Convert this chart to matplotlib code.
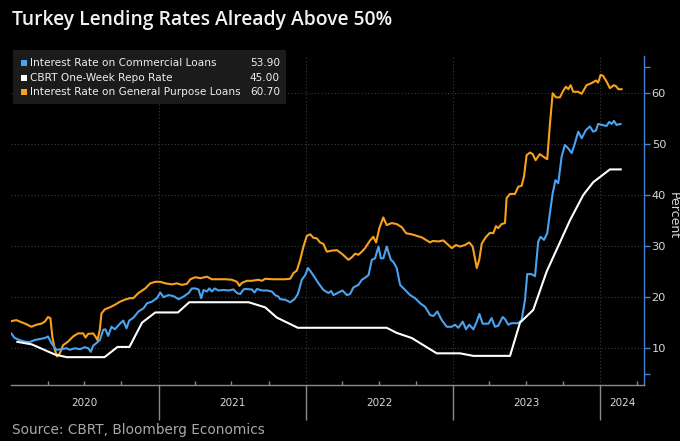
import matplotlib
matplotlib.use("Agg")
import matplotlib.pyplot as plt
import matplotlib.transforms as mtransforms
import matplotlib.patches as mpatches
from matplotlib import font_manager
from datetime import datetime

# ---------------- data (decimal year, percent) ----------------
gp_t = [2020.002, 2020.036, 2020.070, 2020.104, 2020.138, 2020.172, 2020.206, 2020.229, 2020.251, 2020.267,
        2020.280, 2020.297, 2020.312, 2020.331, 2020.353, 2020.387, 2020.421, 2020.455, 2020.489, 2020.505,
        2020.523, 2020.557, 2020.572, 2020.586, 2020.602, 2020.613, 2020.636, 2020.670, 2020.704, 2020.738,
        2020.772, 2020.806, 2020.829, 2020.864, 2020.910, 2020.944, 2020.978, 2021.012, 2021.046, 2021.091,
        2021.125, 2021.159, 2021.193, 2021.216, 2021.250, 2021.284, 2021.329, 2021.363, 2021.408, 2021.453,
        2021.499, 2021.533, 2021.550, 2021.567, 2021.601, 2021.635, 2021.679, 2021.703, 2021.725, 2021.770,
        2021.815, 2021.861, 2021.895, 2021.917, 2021.940, 2021.963, 2021.985, 2022.008, 2022.031, 2022.053,
        2022.076, 2022.098, 2022.121, 2022.144, 2022.178, 2022.212, 2022.246, 2022.268, 2022.291, 2022.314,
        2022.336, 2022.359, 2022.382, 2022.404, 2022.438, 2022.460, 2022.479, 2022.501, 2022.528, 2022.551,
        2022.585, 2022.619, 2022.653, 2022.683, 2022.721, 2022.755, 2022.789, 2022.823, 2022.846, 2022.864,
        2022.902, 2022.936, 2022.970, 2022.993, 2023.022, 2023.049, 2023.083, 2023.112, 2023.135, 2023.151,
        2023.163, 2023.180, 2023.197, 2023.226, 2023.253, 2023.275, 2023.294, 2023.309, 2023.332, 2023.355,
        2023.366, 2023.389, 2023.423, 2023.445, 2023.468, 2023.484, 2023.502, 2023.525, 2023.543, 2023.563,
        2023.592, 2023.615, 2023.642, 2023.660, 2023.679, 2023.701, 2023.728, 2023.751, 2023.769, 2023.785,
        2023.801, 2023.819, 2023.853, 2023.876, 2023.910, 2023.944, 2023.973, 2023.988, 2024.005, 2024.022,
        2024.045, 2024.068, 2024.095, 2024.113, 2024.124, 2024.147]
gp_v = [15.3, 15.5, 15.1, 14.7, 14.2, 14.6, 14.8, 15.2, 16.1, 15.9,
        12.3, 9.7, 8.4, 9.0, 10.6, 11.3, 12.3, 12.9, 12.9, 12.1,
        12.8, 12.9, 12.3, 11.6, 13.6, 16.8, 17.6, 18.0, 18.5, 19.1,
        19.5, 19.8, 19.8, 20.8, 21.7, 22.7, 23.0, 23.0, 22.7, 22.5,
        22.7, 22.4, 22.6, 23.5, 23.9, 23.7, 24.0, 23.5, 23.5, 23.5,
        23.4, 23.0, 22.2, 22.8, 23.2, 23.2, 23.4, 23.2, 23.6, 23.5,
        23.5, 23.5, 23.6, 24.7, 25.2, 27.3, 29.9, 32.0, 32.3, 31.6,
        31.5, 30.7, 30.4, 28.9, 29.1, 29.2, 28.5, 27.9, 27.3, 27.8,
        28.5, 28.3, 28.9, 29.6, 31.1, 31.8, 30.7, 33.5, 35.6, 34.1,
        34.5, 34.3, 33.7, 32.5, 32.3, 32.0, 31.7, 31.1, 30.7, 31.0,
        30.9, 31.1, 30.2, 29.6, 30.2, 29.9, 30.2, 30.7, 29.9, 27.6,
        25.7, 27.3, 30.5, 31.8, 32.6, 32.5, 33.9, 33.5, 34.3, 34.5,
        39.4, 40.2, 40.2, 41.6, 41.8, 43.6, 47.8, 48.3, 48.0, 46.8,
        48.0, 47.5, 47.0, 53.7, 59.9, 59.1, 59.1, 60.4, 61.2, 60.7,
        61.5, 60.2, 60.2, 59.8, 61.5, 61.9, 62.4, 62.0, 63.5, 63.3,
        62.2, 60.9, 61.5, 61.2, 60.7, 60.7]

com_t = [2020.002, 2020.025, 2020.059, 2020.093, 2020.127, 2020.161, 2020.195, 2020.229, 2020.251, 2020.274,
         2020.308, 2020.342, 2020.376, 2020.399, 2020.433, 2020.467, 2020.500, 2020.523, 2020.541, 2020.557,
         2020.579, 2020.602, 2020.625, 2020.640, 2020.659, 2020.681, 2020.704, 2020.738, 2020.761, 2020.783,
         2020.801, 2020.831, 2020.864, 2020.898, 2020.922, 2020.955, 2020.989, 2021.012, 2021.034, 2021.068,
         2021.102, 2021.136, 2021.170, 2021.204, 2021.227, 2021.250, 2021.272, 2021.290, 2021.306, 2021.329,
         2021.345, 2021.363, 2021.381, 2021.408, 2021.442, 2021.476, 2021.510, 2021.533, 2021.555, 2021.578,
         2021.589, 2021.635, 2021.653, 2021.669, 2021.703, 2021.737, 2021.770, 2021.793, 2021.815, 2021.827,
         2021.861, 2021.895, 2021.924, 2021.947, 2021.974, 2021.997, 2022.015, 2022.035, 2022.065, 2022.087,
         2022.121, 2022.155, 2022.173, 2022.189, 2022.223, 2022.250, 2022.280, 2022.302, 2022.325, 2022.359,
         2022.382, 2022.404, 2022.427, 2022.450, 2022.472, 2022.495, 2022.511, 2022.528, 2022.551, 2022.579,
         2022.596, 2022.619, 2022.642, 2022.676, 2022.710, 2022.744, 2022.778, 2022.812, 2022.846, 2022.868,
         2022.895, 2022.925, 2022.959, 2022.993, 2023.015, 2023.038, 2023.068, 2023.090, 2023.112, 2023.140,
         2023.163, 2023.181, 2023.203, 2023.242, 2023.264, 2023.287, 2023.309, 2023.339, 2023.355, 2023.377,
         2023.400, 2023.445, 2023.468, 2023.491, 2023.506, 2023.536, 2023.559, 2023.581, 2023.597, 2023.620,
         2023.642, 2023.660, 2023.679, 2023.698, 2023.717, 2023.740, 2023.762, 2023.785, 2023.808, 2023.830,
         2023.853, 2023.876, 2023.905, 2023.932, 2023.954, 2023.973, 2023.988, 2024.018, 2024.045, 2024.063,
         2024.080, 2024.095, 2024.113, 2024.140]
com_v = [12.9, 12.0, 11.6, 11.3, 11.2, 11.6, 11.8, 12.0, 12.3, 11.0,
         9.7, 9.8, 10.0, 9.7, 10.0, 9.8, 10.2, 10.0, 9.3, 10.5,
         11.0, 11.6, 13.6, 13.7, 12.4, 14.2, 13.7, 14.8, 15.4, 13.9,
         15.4, 16.0, 17.2, 17.8, 18.8, 19.1, 19.8, 20.9, 20.0, 20.4,
         20.2, 19.6, 20.1, 20.8, 21.7, 21.7, 21.5, 19.8, 21.4, 21.1,
         21.7, 21.1, 21.7, 21.3, 21.4, 21.3, 21.5, 20.8, 20.6, 21.5,
         21.6, 21.5, 20.9, 21.6, 21.3, 21.3, 21.1, 20.4, 20.1, 19.6,
         19.5, 19.0, 19.6, 20.6, 23.4, 24.3, 25.7, 25.0, 23.7, 22.7,
         21.4, 20.8, 21.2, 20.4, 20.9, 21.3, 20.4, 20.6, 21.9, 22.4,
         23.4, 23.8, 24.3, 27.3, 27.6, 29.9, 27.6, 27.6, 29.9, 27.3,
         26.9, 25.7, 22.4, 21.4, 20.4, 19.8, 18.8, 18.1, 16.5, 16.3,
         17.2, 15.5, 14.2, 14.2, 14.6, 14.0, 15.2, 13.7, 14.6, 13.7,
         15.2, 16.7, 14.8, 14.8, 15.9, 14.2, 14.4, 16.1, 15.7, 14.6,
         14.9, 14.9, 15.5, 19.5, 24.5, 24.5, 24.1, 30.9, 31.8, 31.2,
         32.5, 36.4, 40.3, 42.9, 42.3, 47.5, 49.8, 49.1, 48.2, 50.1,
         52.4, 51.1, 52.7, 53.4, 52.4, 52.6, 53.9, 53.7, 53.5, 54.3,
         53.9, 54.5, 53.7, 53.9]

repo_t = [2020.043, 2020.141, 2020.299, 2020.378, 2020.634, 2020.722, 2020.803, 2020.888, 2020.978, 2021.132,
          2021.209, 2021.612, 2021.725, 2021.804, 2021.947, 2022.551, 2022.619, 2022.721, 2022.891, 2023.049,
          2023.140, 2023.389, 2023.457, 2023.547, 2023.638, 2023.717, 2023.796, 2023.887, 2023.955, 2024.068,
          2024.141]
repo_v = [11.25, 10.75, 8.75, 8.25, 8.25, 10.25, 10.25, 15.0, 17.0, 17.0,
          19.0, 19.0, 18.0, 16.0, 14.0, 14.0, 13.0, 12.0, 9.0, 9.0,
          8.5, 8.5, 15.0, 17.5, 25.0, 30.0, 35.0, 40.0, 42.5, 45.0,
          45.0]

series_names = ["Interest Rate on Commercial Loans", "CBRT One-Week Repo Rate",
                "Interest Rate on General Purpose Loans"]
series_last = ["53.90", "45.00", "60.70"]
year_labels = ["2020", "2021", "2022", "2023", "2024"]
y_tick_vals = [10, 20, 30, 40, 50, 60]

# ---------------- styling ----------------
BG = "#000000"
C_BLUE = "#4AA3EE"
C_WHITE = "#FFFFFF"
C_ORANGE = "#F9A11B"
C_GRID = "#3a3a3a"
C_AXIS_R = "#3F86CF"
C_TEXT = "#d8d8d8"

available = {f.name for f in font_manager.fontManager.ttflist}
if "Liberation Sans Narrow" in available:
    NARROW = ["Liberation Sans Narrow", "DejaVu Sans"]
    leg_fs, src_fs, yr_fs = 9.2, 11.5, 8.5
else:
    NARROW = ["DejaVu Sans"]
    leg_fs, src_fs, yr_fs = 7.6, 9.8, 7.5

def dec2dt(y):
    yr = int(y)
    s = datetime(yr, 1, 1)
    e = datetime(yr + 1, 1, 1)
    return s + (e - s) * (y - yr)

W, H = 680, 441
fig = plt.figure(figsize=(W / 100, H / 100), dpi=100, facecolor=BG)
L, R, T, B = 11, 644, 56, 385
ax = fig.add_axes([L / W, 1 - B / H, (R - L) / W, (B - T) / H], facecolor=BG)

ax.plot([dec2dt(t) for t in gp_t], gp_v, color=C_ORANGE, lw=1.5, zorder=3)
ax.plot([dec2dt(t) for t in com_t], com_v, color=C_BLUE, lw=1.5, zorder=4)
ax.plot([dec2dt(t) for t in repo_t], repo_v, color=C_WHITE, lw=1.5, zorder=5)

x0, x1 = dec2dt(2020.0), dec2dt(2024.299)
ax.set_xlim(x0, x1)
ax.set_ylim(2.8, 67.2)

# grid
for v in y_tick_vals:
    ax.axhline(v, color=C_GRID, lw=0.8, ls=(0, (1, 2)), zorder=1)
years = [2021, 2022, 2023, 2024]
for yv in years:
    ax.axvline(datetime(yv, 1, 1), color=C_GRID, lw=0.8, ls=(0, (1, 2)), zorder=1)

# spines
for s in ["top", "left"]:
    ax.spines[s].set_visible(False)
ax.spines["bottom"].set_color("#8a8a8a")
ax.spines["right"].set_color(C_AXIS_R)
ax.spines["bottom"].set_linewidth(1.0)
ax.spines["right"].set_linewidth(1.0)

# y axis on right
ax.yaxis.tick_right()
ax.set_yticks([5] + y_tick_vals + [65])
ax.set_yticklabels([""] + [str(v) for v in y_tick_vals] + [""])
ax.tick_params(axis="y", colors=C_AXIS_R, labelcolor=C_TEXT, length=4, width=1,
               labelsize=8.2, pad=1.5)
fig.text(673 / W, 1 - 216 / H, "Percent", rotation=270, color=C_TEXT, fontsize=9,
         ha="center", va="center")

# x axis: long ticks at year boundaries, short quarter ticks
ax.set_xticks([datetime(y, 1, 1) for y in years])
ax.set_xticklabels([])
ax.tick_params(axis="x", which="major", colors="#8a8a8a", length=25, width=1)
qt = []
for y in [2020, 2021, 2022, 2023, 2024]:
    for m in [4, 7, 10]:
        d = datetime(y, m, 1)
        if d < x1:
            qt.append(d)
ax.set_xticks(qt, minor=True)
ax.tick_params(axis="x", which="minor", colors="#8a8a8a", length=3, width=1, direction="in")

trans = mtransforms.blended_transform_factory(ax.transData, ax.transAxes)
year_starts = [2020.0, 2021.0, 2022.0, 2023.0, 2024.0]
year_ends = [2021.0, 2022.0, 2023.0, 2024.0, 2024.299]
for lab, a, b in zip(year_labels, year_starts, year_ends):
    ax.text(dec2dt((a + b) / 2), -0.055, lab, transform=trans, ha="center", va="center",
            color=C_TEXT, fontsize=yr_fs, family=NARROW)

# title & source
fig.text(12 / W, 1 - 20 / H, "Turkey Lending Rates Already Above 50%", color="#f2f2f2",
         fontsize=13.9, fontweight="semibold", family=["Open Sans", "DejaVu Sans"],
         ha="left", va="center")
fig.text(12 / W, 1 - 430 / H, "Source: CBRT, Bloomberg Economics", color="#a8a8a8",
         fontsize=src_fs, ha="left", va="center", family=NARROW)

# legend box
lx0, lx1, ly0, ly1 = 13, 286, 50, 104
fig.patches.append(mpatches.Rectangle((lx0 / W, 1 - ly1 / H), (lx1 - lx0) / W, (ly1 - ly0) / H,
                                      transform=fig.transFigure, facecolor="#1b1b1b",
                                      edgecolor="none", zorder=10))
leg_y = [63, 78, 92]
leg_c = [C_BLUE, C_WHITE, C_ORANGE]
for name, val, yy, cc in zip(series_names, series_last, leg_y, leg_c):
    fig.patches.append(mpatches.Rectangle((21 / W, 1 - (yy + 3) / H), 6 / W, 6 / H,
                                          transform=fig.transFigure, facecolor=cc,
                                          edgecolor="none", zorder=11))
    fig.text(30 / W, 1 - yy / H, name, color="#eeeeee", fontsize=leg_fs, ha="left",
             va="center", zorder=12, family=NARROW)
    fig.text(280 / W, 1 - yy / H, val, color="#eeeeee", fontsize=leg_fs, ha="right",
             va="center", zorder=12, family=NARROW)

fig.savefig("out.png", dpi=100, facecolor=BG)
